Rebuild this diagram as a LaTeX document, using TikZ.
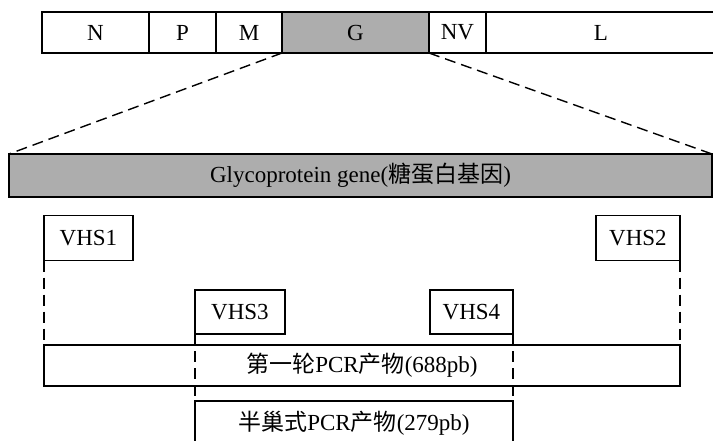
\documentclass[tikz,border=0pt]{standalone}
\usepackage{fontspec}
\setmainfont{Liberation Serif}
\newfontfamily\cjk{Noto Sans CJK SC}
\begin{document}
\begin{tikzpicture}[x=1pt,y=-1pt,
  box/.style={draw, line width=1.5pt, inner sep=0pt, outer sep=0pt, font=\fontsize{23}{26}\selectfont},
  gshade/.style={fill=black!32},
  dsh/.style={line width=1.4pt, dash pattern=on 11pt off 6pt}]
\useasboundingbox (0,0) rectangle (713,440);
\clip (0,0) rectangle (713,440);
\fill[white] (0,0) rectangle (713,440);
% genome bar
\node[box, minimum width=107, minimum height=41] (N) at (95.5,32.5) {N};
\node[box, minimum width=67, minimum height=41] (P) at (182.5,32.5) {P};
\node[box, minimum width=66, minimum height=41] (M) at (249,32.5) {M};
\node[box, gshade, minimum width=147, minimum height=41] (G) at (355.5,32.5) {G};
\node[box, minimum width=57, minimum height=41] (NV) at (457.5,32.5) {NV};
\node[box, minimum width=230, minimum height=41] (L) at (601,32.5) {L};
% glycoprotein gene
\node[box, gshade, minimum width=703, minimum height=43] (glyco) at (360.5,175.5) {Glycoprotein gene({\cjk 糖蛋白基因})};
\draw[dsh] (G.south west) -- (glyco.north west);
\draw[dsh] (G.south east) -- (glyco.north east);
% primers
\node[box, minimum width=89, minimum height=45] (VHS1) at (88.5,238) {VHS1};
\node[box, minimum width=84, minimum height=45] (VHS2) at (638,238) {VHS2};
\node[box, minimum width=90, minimum height=44] (VHS3) at (240,312) {VHS3};
\node[box, minimum width=83, minimum height=44] (VHS4) at (471.5,312) {VHS4};
% products
\node[box, minimum width=636, minimum height=41] (first) at (362,365.5) {{\cjk 第一轮}PCR{\cjk 产物}(688pb)};
\node[box, minimum width=318, minimum height=44] (second) at (354,423) {{\cjk 半巢式}PCR{\cjk 产物}(279pb)};
\draw[dsh] (VHS1.south west) -- (first.north west);
\draw[dsh] (VHS2.south east) -- (first.north east);
\draw[dsh] (VHS3.south west) -- (second.north west);
\draw[dsh] (VHS4.south east) -- (second.north east);
\end{tikzpicture}
\end{document}
